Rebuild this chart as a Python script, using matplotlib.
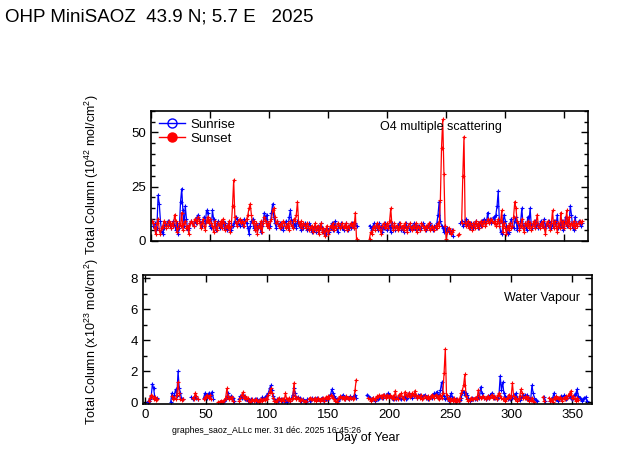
import numpy as np
import matplotlib
matplotlib.use("Agg")
import matplotlib.pyplot as plt
from matplotlib.lines import Line2D
from matplotlib.ticker import MultipleLocator

plt.rcParams["font.family"] = ["Liberation Sans", "DejaVu Sans"]
plt.rcParams["mathtext.fontset"] = "custom"
plt.rcParams["mathtext.rm"] = "Liberation Sans"
plt.rcParams["mathtext.it"] = "Liberation Sans"

nan = np.nan

# O4 total column, sunrise (blue), day 1..365
sr_o4 = [
    9, 7, 8, 5, 6, 21, 17, 9, 4, 3,
    6, 8, 7, 9, 8, 7, 6, 8, 9, 7,
    5, 8, 3, 6, 18, 24, 14, 7, 16, 10,
    5, 6, 8, 9, 8, 7, 9, 8, 11, 12,
    10, 8, 7, 9, 11, 8, 14, 13, 9, 7,
    6, 14, 10, 7, 5, 8, 9, 6, 7, 8,
    9, 6, 8, 5, 7, 8, 6, 5, 7, 8,
    9, 11, 10, 8, 7, 9, 8, 7, 10, 9,
    8, 6, 3, 7, 9, 10, 6, 5, 8, 7,
    6, 8, 4, 7, 9, 13, 10, 12, 8, 6,
    7, 13, 17, 11, 8, 6, 9, 7, 8, 6,
    7, 5, 8, 9, 7, 6, 11, 14, 9, 8,
    7, 8, 6, 9, 7, 8, 5, 7, 6, 8,
    7, 5, 6, 8, 7, 4, 6, 5, 7, 4,
    6, 5, 7, 8, 6, 4, 5, 3, 6, 5,
    4, 6, 8, 5, 7, 9, 6, 4, 7, 6,
    8, 6, 5, 7, 8, 6, 5, 7, 6, 8,
    7, 6, 8, 7, nan, nan, nan, nan, nan, nan,
    nan, nan, nan, nan, 7, 6, 5, 7, 8, 6,
    7, 5, 8, 6, 7, 4, 6, 8, 7, 5,
    6, 7, 4, 8, 6, 7, 5, 7, 6, 8,
    7, 5, 6, 4, 7, 8, 6, 7, 5, 6,
    7, 6, 8, 5, 7, 6, 7, 5, 6, 8,
    7, 6, 5, 7, 6, 8, 7, 6, 5, 7,
    6, 8, 12, 18, 9, 7, 6, 4, 7, 5,
    6, 4, 5, 3, 5, 2, nan, nan, nan, nan,
    nan, 8, 9, 7, 8, 9, 10, 7, 8, 6,
    8, 7, 6, 8, 9, 7, 6, 8, 7, 9,
    8, 10, 9, 8, 13, 9, 10, 8, 9, 11,
    9, 12, 16, 23, 8, 4, 3, 8, 12, 9,
    7, 3, 4, 8, 10, 7, 6, 9, 11, 5,
    8, 6, 9, 15, 7, 6, 8, 5, 11, 8,
    15, 7, 6, 8, 9, 7, 8, 6, 7, 9,
    8, 7, 10, 6, 8, 7, 9, 8, 6, 7,
    9, 8, 7, 12, 6, 8, 7, 9, 5, 8,
    11, 7, 9, 8, 16, 12, 6, 5, 11, 8,
    7, 9, 8, 7, 8,
]

# O4 total column, sunset (red)
ss_o4 = [
    9, 8, 6, 3, 8, 10, 5, 3, 6, 7,
    9, 8, 6, 7, 9, 8, 6, 8, 7, 12,
    9, 4, 6, 8, 7, 13, 5, 8, 9, 6,
    7, 3, 8, 9, 8, 7, 10, 9, 8, 11,
    9, 6, 8, 10, 7, 5, 9, 11, 8, 10,
    8, 7, 4, 9, 6, 5, 8, 7, 9, 6,
    10, 8, 5, 7, 6, 9, 4, 7, 16, 28,
    11, 8, 7, 9, 10, 8, 9, 8, 7, 9,
    10, 12, 15, 17, 12, 8, 9, 5, 8, 3,
    7, 6, 9, 4, 8, 11, 9, 7, 8, 6,
    9, 10, 14, 15, 11, 8, 9, 7, 6, 8,
    7, 9, 8, 6, 7, 8, 5, 9, 7, 6,
    10, 9, 12, 18, 8, 7, 9, 6, 8, 7,
    6, 8, 7, 5, 6, 7, 4, 6, 8, 5,
    7, 3, 6, 8, 4, 6, 2, 5, 7, 3,
    5, 7, 6, 8, 5, 7, 6, 8, 7, 6,
    7, 8, 6, 7, 8, 5, 7, 6, 8, 7,
    8, 6, 13, 1, nan, nan, nan, nan, nan, nan,
    nan, nan, nan, nan, 1, 4, 3, 6, 7, 5,
    8, 6, 7, 5, 3, 7, 8, 6, 7, 8,
    6, 9, 15, 7, 5, 8, 6, 7, 5, 6,
    8, 6, 7, 5, 8, 6, 4, 7, 8, 6,
    5, 7, 6, 8, 4, 7, 6, 5, 8, 7,
    6, 5, 7, 6, 8, 5, 6, 7, 6, 5,
    7, 6, 8, 7, 19, 43, 56, 31, 7, 1,
    4, 6, 5, 3, 4, 5, nan, nan, nan, 2.5,
    3, nan, 8, 30, 48, 8, 7, 9, 6, 8,
    7, 5, 8, 6, 9, 7, 8, 6, 9, 7,
    8, 9, 7, 8, 10, 8, 9, 10, 9, 8,
    9, 7, 8, 10, 7, 9, 14, 4, 8, 6,
    3, 7, 5, 8, 6, 7, 11, 18, 15, 9,
    8, 5, 7, 10, 6, 4, 8, 7, 9, 6,
    8, 5, 7, 9, 6, 8, 12, 7, 6, 8,
    7, 9, 6, 3, 8, 9, 7, 5, 8, 14,
    6, 9, 7, 4, 8, 6, 13, 7, 9, 6,
    8, 14, 7, 11, 6, 8, 7, 9, 6, 8,
    7, 8, 9, 8, 9,
]

# water vapour total column, sunrise (blue)
sr_h2o = [
    nan, 0.05, 0.1, 0.2, 0.4, 1.2, 0.9, 0.3, 0.2, 0.3,
    nan, nan, nan, nan, nan, nan, nan, nan, nan, nan,
    0.05, 0.6, 0.3, 0.5, 0.85, 0.4, 2.0, 0.9, 0.6, 0.2,
    0.2, nan, nan, nan, nan, nan, nan, 0.35, 0.2, 0.3,
    0.4, 0.3, 0.2, nan, nan, nan, nan, 0.3, 0.6, 0.5,
    0.3, 0.6, 0.4, 0.5, 0.7, 0.2, nan, nan, nan, nan,
    0.05, 0.05, nan, 0.05, 0.1, 0.2, 0.4, 0.6, 0.3, 0.4,
    0.2, 0.3, 0.1, nan, nan, nan, 0.2, 0.4, 0.3, 0.5,
    0.4, 0.2, 0.3, 0.1, 0.15, 0.1, 0.2, 0.1, 0.15, 0.2,
    0.1, 0.2, 0.15, 0.1, 0.2, 0.35, 0.2, 0.3, 0.4, 0.5,
    0.6, 0.9, 1.1, 0.8, 0.4, 0.2, 0.1, 0.2, 0.1, 0.15,
    0.2, 0.1, 0.15, 0.2, 0.1, 0.05, 0.15, 0.2, 0.1, 0.3,
    0.5, 0.9, 0.6, 0.3, 0.35, 0.2, 0.3, 0.1, 0.2, nan,
    0.1, 0.05, 0.2, nan, 0.1, 0.15, 0.3, 0.2, 0.25, 0.2,
    0.3, 0.2, 0.1, 0.2, 0.3, 0.15, 0.1, 0.2, 0.3, 0.25,
    0.4, 0.5, 0.85, 0.6, 0.4, 0.3, 0.2, 0.1, 0.2, 0.3,
    0.4, 0.45, 0.3, 0.2, 0.35, 0.3, 0.25, 0.4, 0.3, 0.35,
    0.4, 0.5, 0.3, nan, nan, nan, nan, nan, nan, nan,
    nan, 0.5, 0.4, 0.3, 0.25, 0.2, 0.3, 0.1, 0.2, 0.3,
    0.25, 0.3, 0.35, 0.4, 0.3, 0.5, 0.45, 0.4, 0.6, 0.5,
    0.4, 0.3, 0.2, 0.35, 0.3, 0.2, 0.3, 0.4, 0.3, 0.2,
    0.3, 0.35, 0.4, 0.2, 0.3, 0.6, 0.4, 0.5, 0.3, 0.4,
    0.5, 0.4, 0.3, 0.45, 0.5, 0.35, 0.3, 0.4, 0.5, 0.3,
    0.35, 0.2, 0.3, 0.4, 0.3, 0.5, 0.6, 0.4, 0.7, 0.5,
    0.3, 0.8, 1.3, 0.6, 0.4, 0.2, 0.3, 0.2, 0.1, 0.4,
    0.6, 0.3, 0.2, 0.1, 0.2, nan, 0.1, 0.15, 0.3, 0.6,
    0.7, 0.5, 0.6, 0.5, 0.3, 0.1, 0.2, 0.3, 0.2, 0.25,
    0.3, 0.2, 0.4, 0.3, 1.0, 0.6, 0.4, 0.3, 0.25, 0.3,
    0.4, 0.3, 0.5, 0.6, 0.4, 0.3, 0.35, 0.2, 0.3, 0.5,
    1.7, 0.8, 1.3, 0.6, 0.4, 0.3, 0.2, 0.3, 0.25, 0.4,
    0.3, 0.5, 0.4, 0.6, 0.3, 0.2, 0.15, 0.3, 0.4, 0.5,
    0.45, 0.3, 0.5, 0.2, 0.3, 0.2, 1.1, 0.6, 0.3, 0.15,
    0.1, nan, nan, nan, nan, nan, 0.35, 0.1, nan, nan,
    nan, 0.1, 0.2, 0.3, 0.6, 0.3, 0.2, 0.1, 0.2, 0.3,
    0.4, 0.3, 0.45, 0.3, 0.2, 0.3, 0.4, 0.5, 0.3, 0.2,
    0.3, 0.5, 0.6, 0.85, 0.4, 0.3, 0.2, 0.1, 0.2, 0.3,
    0.35, 0.1, nan, nan, nan,
]

# water vapour total column, sunset (red)
ss_h2o = [
    nan, nan, 0.1, 0.3, 0.45, 0.4, 0.2, 0.35, 0.15, 0.25,
    nan, nan, nan, nan, nan, nan, nan, nan, nan, nan,
    nan, 0.4, 0.2, 0.3, 0.2, 0.5, 1.3, 0.6, 0.2, 0.15,
    0.2, nan, nan, nan, nan, nan, nan, nan, 0.3, 0.2,
    0.6, 0.4, 0.2, nan, nan, nan, nan, 0.25, 0.3, 0.4,
    0.5, 0.3, 0.45, 0.2, nan, nan, nan, nan, nan, 0.05,
    0.05, 0.1, 0.05, 0.1, 0.15, 0.3, 0.9, 0.4, 0.2, 0.3,
    0.35, 0.1, nan, nan, nan, nan, 0.1, 0.3, 0.45, 0.65,
    0.3, 0.4, 0.2, 0.3, 0.1, 0.05, 0.1, 0.2, 0.1, 0.15,
    0.2, 0.1, 0.05, 0.15, 0.2, 0.1, 0.25, 0.15, 0.3, 0.2,
    0.5, 0.7, 0.9, 0.6, 0.3, 0.1, 0.05, 0.15, 0.2, 0.3,
    0.1, 0.2, 0.25, 0.1, 0.6, 0.2, 0.15, 0.3, 0.1, 0.2,
    0.3, 1.25, 0.4, 0.2, 0.3, 0.25, 0.1, 0.2, 0.15, nan,
    0.05, 0.1, nan, 0.2, 0.3, 0.25, 0.2, 0.15, 0.3, 0.1,
    0.2, 0.3, 0.1, 0.25, 0.2, 0.3, 0.1, 0.35, 0.25, 0.4,
    0.3, 0.45, 0.4, 0.3, 0.2, 0.1, 0.05, 0.2, 0.3, 0.4,
    0.3, 0.35, 0.2, 0.25, 0.4, 0.3, 0.2, 0.35, 0.3, 0.25,
    0.3, 0.8, 1.45, nan, nan, nan, nan, nan, nan, nan,
    nan, nan, 0.3, 0.2, 0.1, 0.25, 0.3, 0.15, 0.3, 0.4,
    0.35, 0.5, 0.4, 0.3, 0.5, 0.45, 0.3, 0.5, 0.4, 0.35,
    0.5, 0.3, 0.4, 0.2, 0.75, 0.3, 0.2, 0.5, 0.4, 0.6,
    0.3, 0.2, 0.7, 0.5, 0.4, 0.6, 0.35, 0.5, 0.6, 0.4,
    0.75, 0.5, 0.3, 0.4, 0.3, 0.5, 0.2, 0.3, 0.4, 0.35,
    0.3, 0.4, 0.2, 0.35, 0.5, 0.4, 0.3, 0.5, 0.4, 0.3,
    0.2, 0.5, 0.3, 0.6, 1.9, 3.45, 0.5, 0.2, 0.3, 0.1,
    0.2, 0.1, 0.3, 0.15, 0.05, 0.2, 0.1, 0.3, 0.6, 0.8,
    1.1, 1.8, 0.4, 0.2, 0.1, 0.15, 0.3, 0.25, 0.2, 0.3,
    0.3, 0.2, 0.8, 0.4, 0.3, 0.35, 0.4, 0.3, 0.2, 0.35,
    0.4, 0.3, 0.35, 0.5, 0.3, 0.4, 0.3, 0.2, 0.45, 0.6,
    0.4, 0.3, 0.2, 0.3, 0.1, 0.2, 0.3, 0.5, 0.3, 0.4,
    1.25, 0.4, 0.2, 0.3, 0.1, 0.2, 0.4, 0.85, 0.6, 0.3,
    0.3, 0.4, 0.2, 0.35, 0.1, 0.15, 0.3, 0.1, 0.05, nan,
    nan, nan, nan, nan, nan, 0.35, 0.1, nan, nan, nan,
    0.3, 0.1, 0.2, 0.05, 0.3, 0.2, 0.4, 0.3, 0.2, 0.35,
    0.2, 0.1, 0.3, 0.2, 0.4, 0.3, 0.5, 0.6, 0.75, 0.3,
    0.4, 0.2, 0.1, 0.3, 0.15, nan, nan, nan, nan, nan,
    nan, nan, nan, nan, nan,
]

BLUE = "#0000ff"
RED = "#ff0000"


def draw(ax, vals, color):
    days = np.arange(1, len(vals) + 1)
    ax.plot(days, vals, color=color, lw=0.9, marker="+", ms=3.5, mew=0.8)


def style(ax):
    for s in ax.spines.values():
        s.set_linewidth(1.2)
    ax.tick_params(which="both", direction="in", top=True, right=True,
                   labelsize=9.5, width=1.0)
    ax.tick_params(which="major", length=5)
    ax.tick_params(which="minor", length=3)
    ax.xaxis.set_major_locator(MultipleLocator(50))


fig = plt.figure(figsize=(6.23, 4.55), dpi=100)

ax1 = fig.add_axes([0.2424, 0.471, 0.7014, 0.2857])
draw(ax1, sr_o4, BLUE)
draw(ax1, ss_o4, RED)
ax1.set_xlim(0, 370)
ax1.set_ylim(0, 60)
ax1.yaxis.set_major_locator(MultipleLocator(25))
ax1.yaxis.set_minor_locator(MultipleLocator(5))
style(ax1)
ax1.tick_params(labelbottom=False)
ax1.text(0.525, 0.85, "O4 multiple scattering", transform=ax1.transAxes,
         fontsize=9)
handles = [
    Line2D([], [], color=BLUE, lw=1, marker="o", ms=6.5, mfc="none", mew=1),
    Line2D([], [], color=RED, lw=1, marker="o", ms=6.5, mfc=RED, mew=1),
]
ax1.legend(handles, ["Sunrise", "Sunset"], loc="upper left", frameon=False,
           fontsize=9.5, handlelength=2.0, borderaxespad=0.2,
           labelspacing=0.15, handletextpad=0.4)
fig.text(0.148, 0.617, "Total Column (10$^{42}$ mol/cm$^{2}$)",
         rotation=90, ha="center", va="center", fontsize=9)

ax2 = fig.add_axes([0.229, 0.1121, 0.7208, 0.2835])
draw(ax2, sr_h2o, BLUE)
draw(ax2, ss_h2o, RED)
ax2.set_xlim(-2, 366)
ax2.set_ylim(-0.1, 8.2)
ax2.yaxis.set_major_locator(MultipleLocator(2))
ax2.yaxis.set_minor_locator(MultipleLocator(1))
style(ax2)
ax2.text(0.975, 0.8, "Water Vapour", transform=ax2.transAxes,
         ha="right", fontsize=9)
fig.text(0.148, 0.25, "Total Column (x10$^{23}$ mol/cm$^{2}$)",
         rotation=90, ha="center", va="center", fontsize=9)

fig.text(0.59, 0.03, "Day of Year", ha="center", fontsize=9)
fig.text(0.276, 0.048, "graphes_saoz_ALLc mer. 31 d\u00e9c. 2025 16:45:26",
         fontsize=6.3)
fig.text(0.008, 0.952, "OHP MiniSAOZ  43.9 N; 5.7 E   2025", fontsize=13.5)

fig.savefig("out.png", dpi=100)
